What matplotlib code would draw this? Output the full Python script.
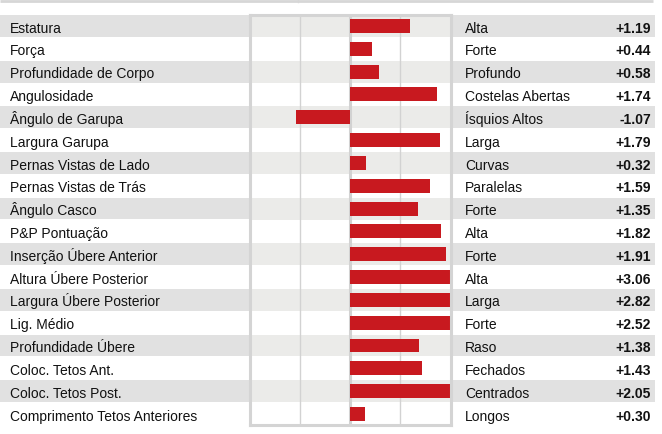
import matplotlib.pyplot as plt
import numpy as np
from matplotlib.patches import Rectangle

plt.rcParams['font.family'] = ['Liberation Sans', 'DejaVu Sans']

# traits, side labels and values
traits = ["Estatura", "Força", "Profundidade de Corpo", "Angulosidade",
          "Ângulo de Garupa", "Largura Garupa", "Pernas Vistas de Lado",
          "Pernas Vistas de Trás", "Ângulo Casco", "P&P Pontuação",
          "Inserção Úbere Anterior", "Altura Úbere Posterior",
          "Largura Úbere Posterior", "Lig. Médio", "Profundidade Úbere",
          "Coloc. Tetos Ant.", "Coloc. Tetos Post.",
          "Comprimento Tetos Anteriores"]
descr = ["Alta", "Forte", "Profundo", "Costelas Abertas", "Ísquios Altos",
         "Larga", "Curvas", "Paralelas", "Forte", "Alta", "Forte", "Alta",
         "Larga", "Forte", "Raso", "Fechados", "Centrados", "Longos"]
values = [1.19, 0.44, 0.58, 1.74, -1.07, 1.79, 0.32, 1.59, 1.35, 1.82,
          1.91, 3.06, 2.82, 2.52, 1.38, 1.43, 2.05, 0.30]

W, H = 662, 435
n = len(traits)
y0 = 27.0      # center of first row (px)
dy = 22.82     # row spacing (px)

fig = plt.figure(figsize=(W / 100, H / 100), dpi=100)

# background axes in pixel coordinates
bg = fig.add_axes([0, 0, 1, 1])
bg.set_xlim(0, W)
bg.set_ylim(H, 0)
bg.axis("off")

bg.plot([0, 653], [2, 2], color="#d6d6d6", lw=2, solid_capstyle="butt")
bg.plot([298, 298], [0, 3], color="#d6d6d6", lw=1)

for i in range(n):
    yc = y0 + i * dy
    if i % 2 == 0:
        bg.add_patch(Rectangle((0, yc - dy / 2 + 0.5), 655, dy - 1,
                               color="#e1e1e1", lw=0))
    yb = yc + 5.6
    bg.text(10, yb, traits[i], ha="left", va="baseline", fontsize=10, color="#111111")
    bg.text(465, yb, descr[i], ha="left", va="baseline", fontsize=10, color="#111111")
    bg.text(651, yb, "%+.2f" % values[i], ha="right", va="baseline",
            fontsize=10, fontweight="bold", color="#111111")

# bar panel
left, right = 249.5, 450.5
top, bottom = y0 - dy / 2, y0 + (n - 0.5) * dy
ax = fig.add_axes([left / W, 1 - bottom / H, (right - left) / W, (bottom - top) / H])
ax.set_xlim(-2, 2)
ax.set_ylim(n - 0.5, -0.5)
ax.set_facecolor("white")

for i in range(n):
    if i % 2 == 0:
        ax.add_patch(Rectangle((-2, i - 0.48), 4, 0.96, color="#ebebe9", lw=0, zorder=0))

for xg in [-1, 1]:
    ax.axvline(xg, color="#d2d2d2", lw=1, zorder=1)
ax.axvline(0, color="#d2d2d2", lw=2.2, zorder=1)

clipped = np.clip(values, -2, 2)
ax.barh(np.arange(n), clipped, height=0.61, color="#c8191f", zorder=2)

ax.set_xticks([])
ax.set_yticks([])
for s in ax.spines.values():
    s.set_color("#d4d4d4")
    s.set_linewidth(2.2)

fig.savefig("out.png", dpi=100)
